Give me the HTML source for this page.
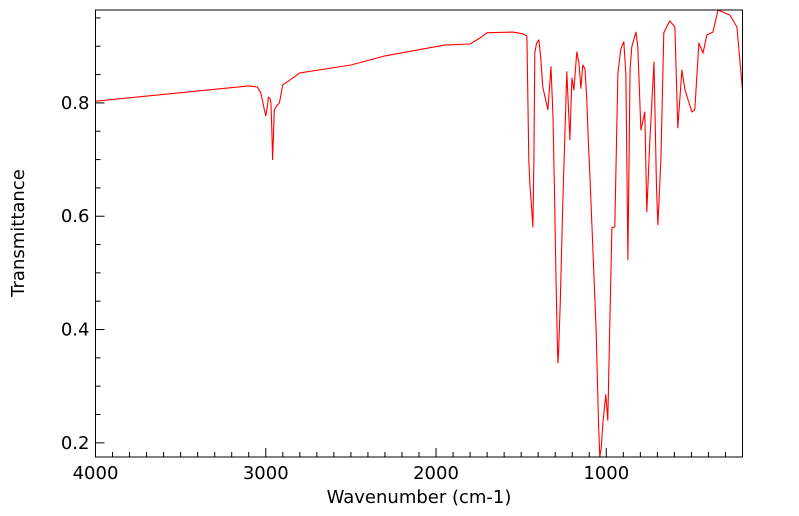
<!DOCTYPE html>
<html><head><meta charset="utf-8"><style>
html,body{margin:0;padding:0;background:#fff;}
svg{display:block;font-family:"DejaVu Sans","Liberation Sans",sans-serif;}
</style></head><body>
<svg id="chart" width="799" height="516" viewBox="0 0 799 516" xmlns="http://www.w3.org/2000/svg">
<defs><clipPath id="plotclip"><rect x="95.5" y="10" width="647" height="447"/></clipPath></defs>
<g id="ticks"></g>
<path id="line" fill="none" stroke="#ff0000" stroke-width="1.1" stroke-linejoin="round" clip-path="url(#plotclip)"/>
<rect x="95.5" y="10" width="647" height="447" fill="none" stroke="#000" stroke-width="1"/>
<text x="419" y="503" font-size="18" text-anchor="middle">Wavenumber (cm-1)</text>
<text x="24" y="233" font-size="18" text-anchor="middle" transform="rotate(-90 24 233)">Transmittance</text>
</svg>
<script>
const wavenumbers = [4000,3500,3100,3050,3030,3020,3010,3000,2990,2985,2975,2970,2965,2960,2955,2950,2935,2920,2900,2870,2800,2500,2300,2100,1950,1800,1730,1700,1550,1490,1466,1455,1449,1440,1431,1425,1420,1410,1396,1385,1373,1343,1325,1313,1305,1295,1288,1284,1280,1270,1255,1232,1214,1202,1190,1173,1160,1149,1138,1125,1115,1105,1097,1080,1060,1045,1038,1030,1020,1003,991,980,967,950,932,915,897,885,873,860,850,826,815,797,774,762,744,720,705,697,679,662,627,597,580,556,538,497,480,456,432,409,374,344,274,233,200];
const transmittance = [0.803,0.818,0.830,0.828,0.818,0.805,0.790,0.777,0.795,0.810,0.808,0.800,0.760,0.700,0.740,0.788,0.795,0.800,0.832,0.838,0.853,0.867,0.883,0.894,0.902,0.904,0.917,0.924,0.925,0.922,0.918,0.700,0.659,0.620,0.581,0.700,0.888,0.905,0.911,0.880,0.828,0.788,0.864,0.775,0.650,0.480,0.380,0.341,0.360,0.450,0.629,0.855,0.735,0.844,0.823,0.890,0.870,0.826,0.867,0.860,0.810,0.730,0.676,0.550,0.400,0.230,0.175,0.190,0.235,0.285,0.240,0.400,0.580,0.581,0.853,0.895,0.908,0.850,0.523,0.860,0.899,0.925,0.900,0.752,0.784,0.608,0.735,0.872,0.650,0.585,0.700,0.924,0.945,0.934,0.756,0.858,0.823,0.784,0.788,0.906,0.888,0.920,0.925,0.964,0.955,0.934,0.823];
const xTickValues = [4000,3000,2000,1000];
const yTickValues = [0.2,0.4,0.6,0.8];
const X0=95.5, X1=742.5, Y0=10, Y1=457;
const WMAX=4000, WMIN=200, TMIN=0.175, TMAX=0.964;
function xs(w){return X0+(WMAX-w)/(WMAX-WMIN)*(X1-X0);}
function ys(t){return Y1-(t-TMIN)/(TMAX-TMIN)*(Y1-Y0);}
const NS="http://www.w3.org/2000/svg";
let d="";
for(let i=0;i<wavenumbers.length;i++){d+=(i?"L":"M")+xs(wavenumbers[i]).toFixed(1)+","+ys(transmittance[i]).toFixed(1);}
document.getElementById('line').setAttribute('d',d);
const g=document.getElementById('ticks');
function ln(x1,y1,x2,y2,name){const l=document.createElementNS(NS,'line');
l.setAttribute('x1',x1);l.setAttribute('y1',y1);l.setAttribute('x2',x2);l.setAttribute('y2',y2);
l.setAttribute('stroke','#000');l.setAttribute('stroke-width','1');


g.appendChild(l);}
for(let w=4000;w>=WMIN;w-=100){const x=xs(w);const major=w%1000===0;ln(x,Y1,x,Y1-(major?9:5),major?'x-major-tick':'x-minor-tick');}
for(let t=0.2;t<=TMAX;t+=0.05){const y=ys(t);const major=Math.abs((t*10)%2)<0.01||Math.abs((t*10)%2-2)<0.01;ln(X0,y,X0+(major?9:5),y,major?'y-major-tick':'y-minor-tick');}
xTickValues.forEach(v=>{const t=document.createElementNS(NS,'text');t.setAttribute('x',xs(v));t.setAttribute('y',Y1+22);t.setAttribute('font-size','18');t.setAttribute('text-anchor','middle');t.textContent=String(v);


g.appendChild(t);});
yTickValues.forEach(v=>{const t=document.createElementNS(NS,'text');t.setAttribute('x',X0-6);t.setAttribute('y',ys(v)+6);t.setAttribute('font-size','18');t.setAttribute('text-anchor','end');t.textContent=v.toFixed(1);


g.appendChild(t);});
</script>
</body></html>
